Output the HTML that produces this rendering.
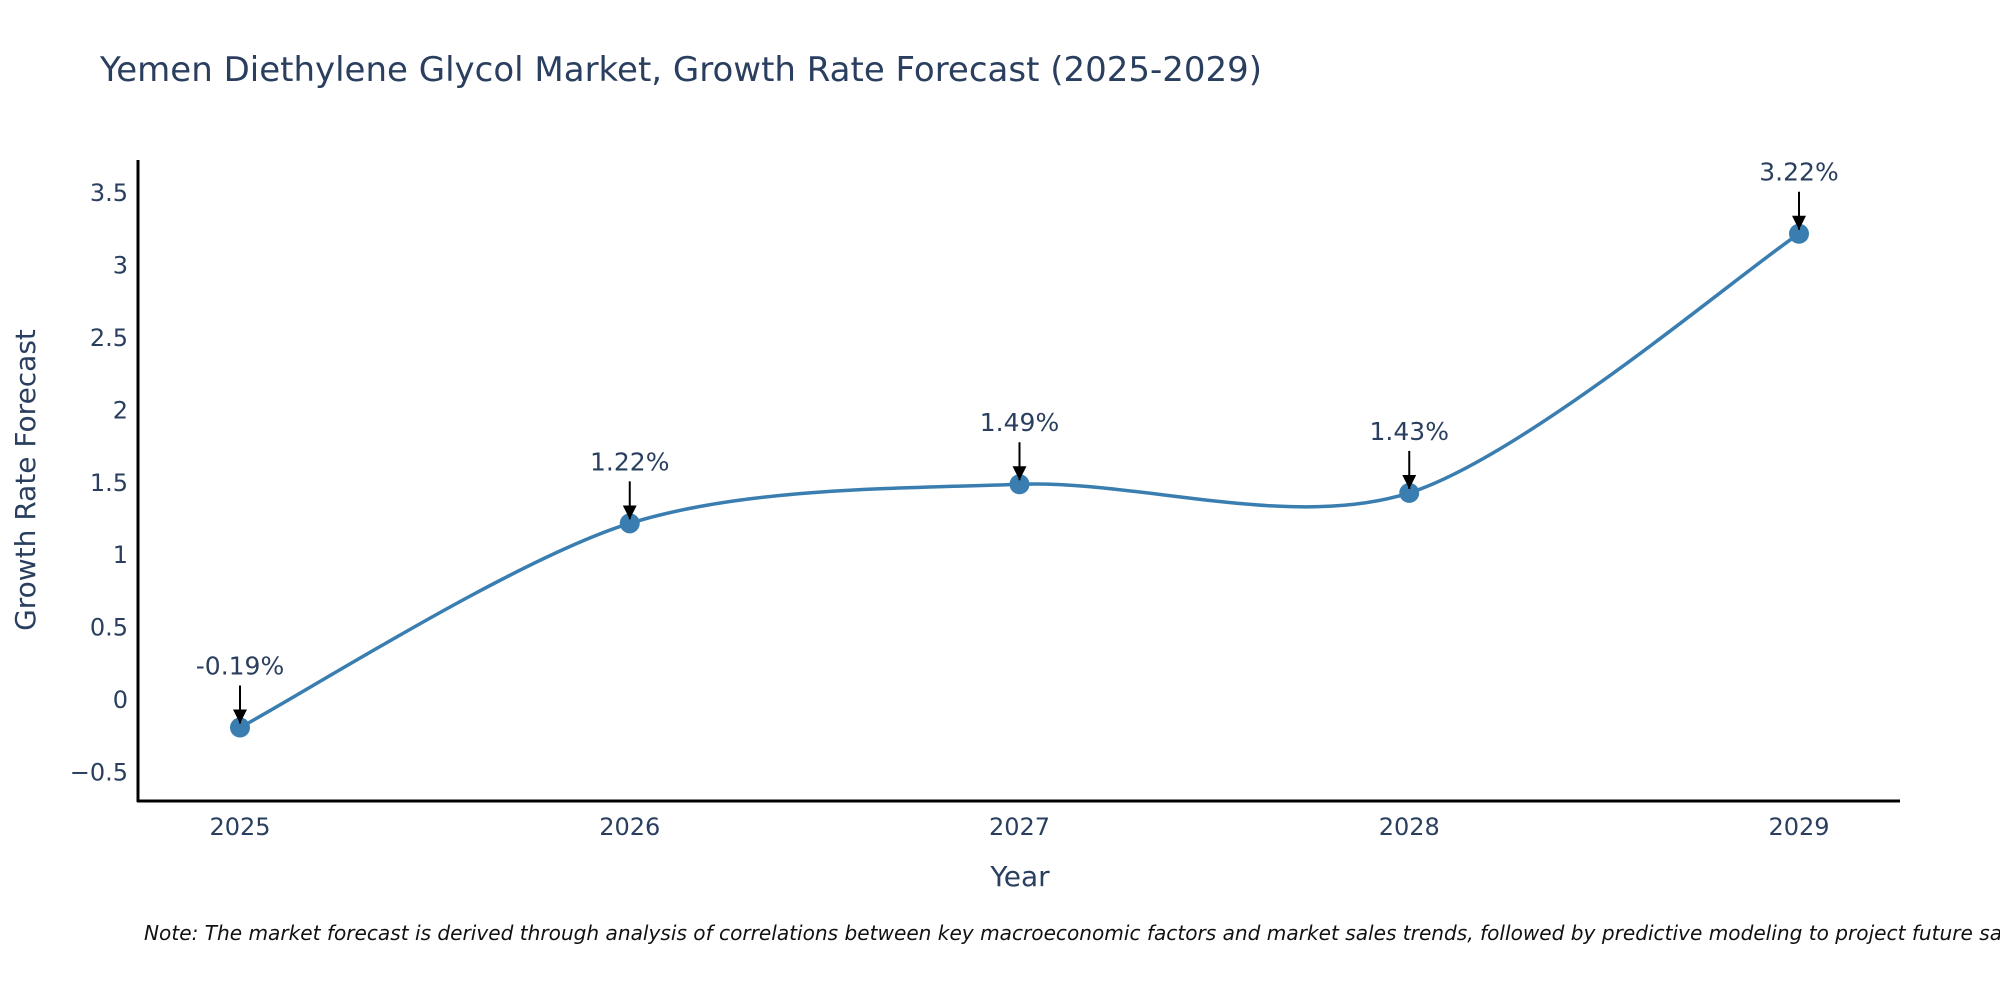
<!DOCTYPE html>
<html><head><meta charset="utf-8"><style>
html,body{margin:0;padding:0;background:#fff;width:2000px;height:1000px;overflow:hidden}
svg{font-family:"DejaVu Sans","Liberation Sans",sans-serif}
</style></head><body>
<svg id="chart" width="2000" height="1000">
<defs><marker id="ah" markerWidth="16" markerHeight="16" refX="14" refY="7" orient="auto" markerUnits="userSpaceOnUse"><path d="M0,0 L14,7 L0,14 Z" fill="#000"/></marker></defs>
<text x="100" y="81" font-size="34" fill="#2a3f5f">Yemen Diethylene Glycol Market, Growth Rate Forecast (2025-2029)</text>
<g id="yticks"></g><g id="xticks"></g>
<line x1="138" y1="160" x2="138" y2="802" stroke="#000" stroke-width="3"/>
<line x1="137" y1="801" x2="1900" y2="801" stroke="#000" stroke-width="3"/>
<text transform="translate(35,480) rotate(-90)" text-anchor="middle" font-size="28" fill="#2a3f5f">Growth Rate Forecast</text>
<text x="1020" y="886" text-anchor="middle" font-size="28" fill="#2a3f5f">Year</text>
<path id="line" fill="none" stroke="#3a7eb1" stroke-width="3.5"/>
<g id="marks"></g>
<text x="144" y="940" font-size="20.1" font-style="italic" fill="#111">Note: The market forecast is derived through analysis of correlations between key macroeconomic factors and market sales trends, followed by predictive modeling to project future sales.</text>
</svg>
<script>
const years=[2025,2026,2027,2028,2029];
const values=[-0.19,1.22,1.49,1.43,3.22];
const labels=["-0.19%","1.22%","1.49%","1.43%","3.22%"];
const yTicks=[-0.5,0,0.5,1,1.5,2,2.5,3,3.5];
const yTickLabels=["\u22120.5","0","0.5","1","1.5","2","2.5","3","3.5"];
const NS="http://www.w3.org/2000/svg";
const xS=v=>240+(v-2025)*389.75;
const yS=v=>700-v*144.8;
function mk(t,a,p){const e=document.createElementNS(NS,t);for(const k in a)e.setAttribute(k,a[k]);p.appendChild(e);return e;}
const yt=document.getElementById('yticks');
yTicks.forEach((v,i)=>{const t=mk('text',{x:128,y:yS(v)+8,'text-anchor':'end','font-size':24,fill:'#2a3f5f'},yt);t.textContent=yTickLabels[i];

});
const xt=document.getElementById('xticks');
years.forEach(y=>{const t=mk('text',{x:xS(y),y:835,'text-anchor':'middle','font-size':24,fill:'#2a3f5f'},xt);t.textContent=y;

});
const P=years.map((y,i)=>[xS(y),yS(values[i])]);
let d='M'+P[0][0]+','+P[0][1];const s=0.3;
for(let i=0;i<P.length-1;i++){const p0=P[Math.max(i-1,0)],p1=P[i],p2=P[i+1],p3=P[Math.min(i+2,P.length-1)];
const c1=[p1[0]+(p2[0]-p0[0])*s*0.5,p1[1]+(p2[1]-p0[1])*s*0.5];
const c2=[p2[0]-(p3[0]-p1[0])*s*0.5,p2[1]-(p3[1]-p1[1])*s*0.5];
d+=` C${c1[0]},${c1[1]} ${c2[0]},${c2[1]} ${p2[0]},${p2[1]}`;}
document.getElementById('line').setAttribute('d',d);
const g=document.getElementById('marks');
P.forEach((p,i)=>{const c=mk('circle',{cx:p[0],cy:p[1],r:10,fill:'#3a7eb1'},g);


const l=mk('line',{x1:p[0],y1:p[1]-42,x2:p[0],y2:p[1]-4,stroke:'#000','stroke-width':2,'marker-end':'url(#ah)'},g);


const t=mk('text',{x:p[0],y:p[1]-53,'text-anchor':'middle','font-size':25,fill:'#2a3f5f'},g);t.textContent=labels[i];

});
</script>
</body></html>
